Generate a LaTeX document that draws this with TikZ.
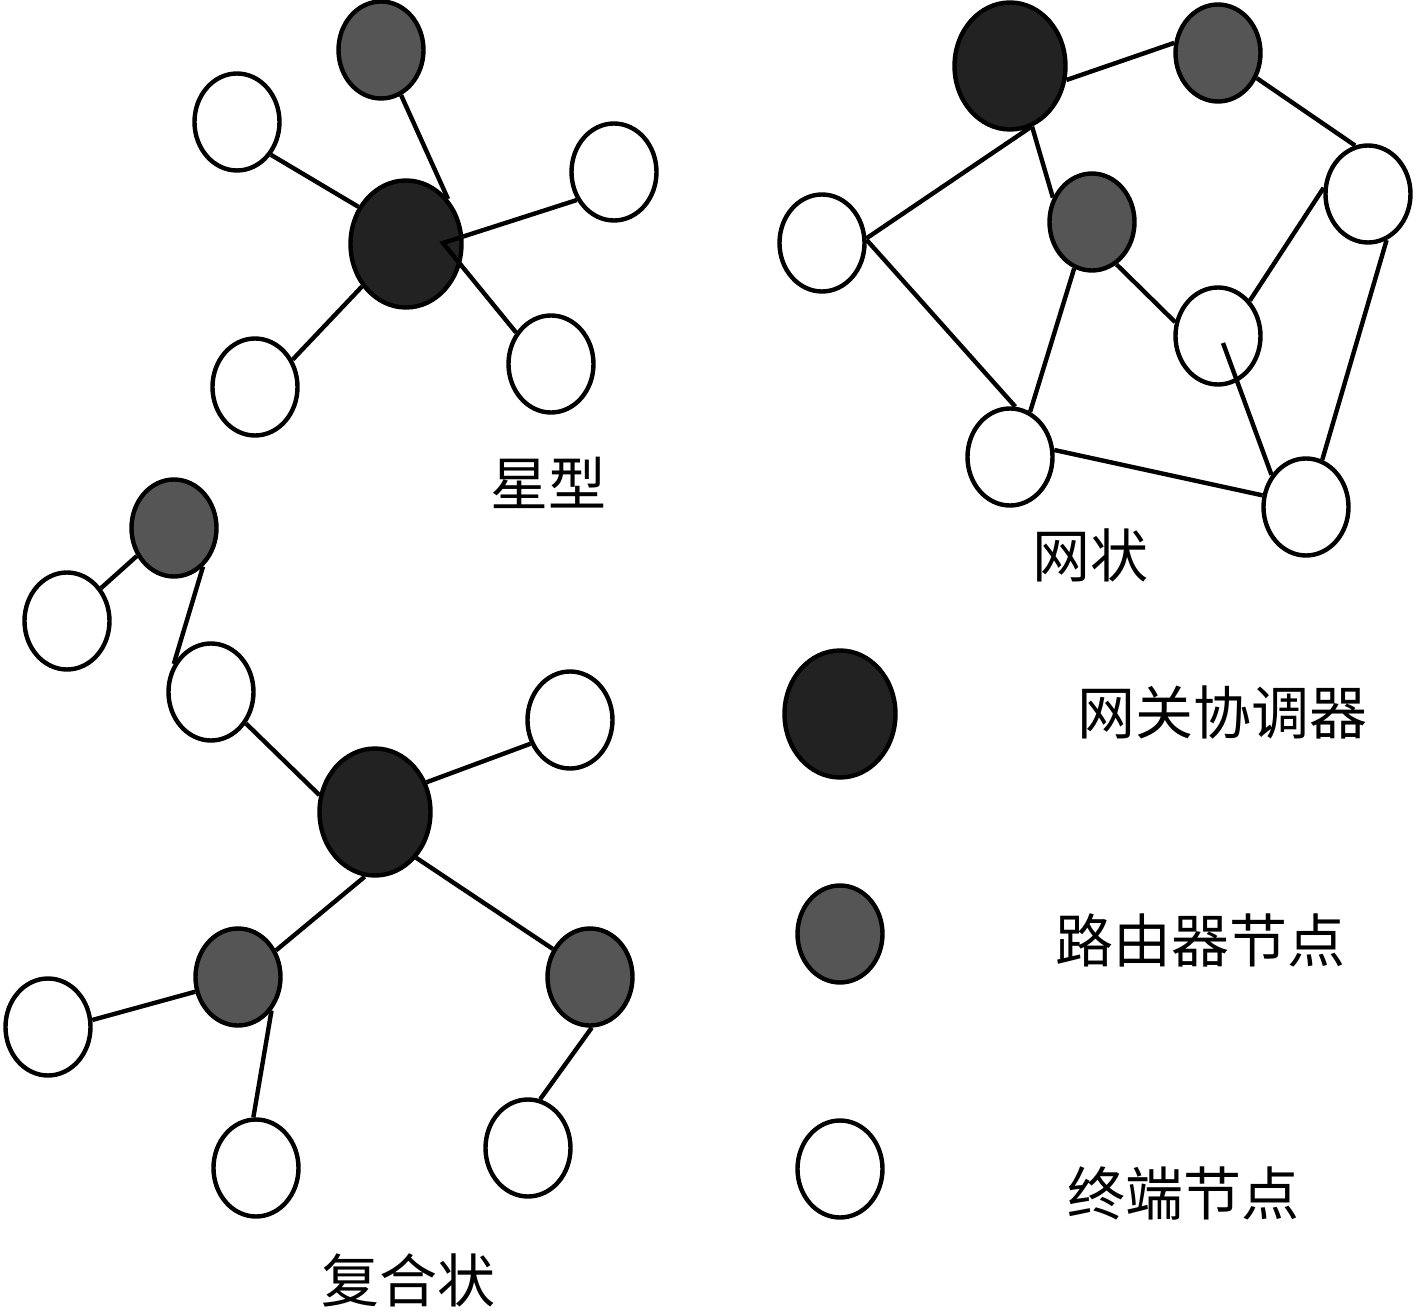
\documentclass[tikz,border=0pt]{standalone}
\usepackage{fontspec}
\newfontfamily\cjk{Noto Sans CJK SC}
\usetikzlibrary{shapes.geometric}
\definecolor{coordfill}{HTML}{222222}
\definecolor{routerfill}{HTML}{555555}
\tikzset{
  nd/.style={ellipse, draw=black, line width=4.4pt, inner sep=0pt, minimum width=85pt, minimum height=97pt},
  gw/.style={nd, fill=coordfill, minimum width=111pt, minimum height=127pt},
  rt/.style={nd, fill=routerfill},
  tm/.style={nd, fill=white},
  ln/.style={line width=4.4pt},
  lbl/.style={font=\cjk\fontsize{58}{60}\selectfont, inner sep=0pt}
}
\begin{document}
\begin{tikzpicture}[x=1pt,y=-1pt]
\useasboundingbox (0,0) rectangle (1417,1313);
\fill[white] (0,0) rectangle (1417,1313);

% ---------- star ----------
\node[gw] (sc) at (406,244) {};
\node[rt] (sg) at (381,50) {};
\node[tm] (sul) at (237,122) {};
\node[tm] (sr) at (614,172) {};
\node[tm] (sll) at (255,387) {};
\node[tm] (slr) at (551,364) {};
\coordinate (sk) at (443,243);
\node[lbl] (tstar) at (548,483) {星型};

\draw[ln] (sg.-66) -- (sc.47);
\draw[ln] (sul.-44) -- (sc.142);
\draw[ln] (sr.217) -- (sk) -- (slr.138);
\draw[ln] (sll.36) -- (sc.-136);

% ---------- mesh ----------
\node[gw] (mb) at (1010,66) {};
\node[rt] (mg1) at (1218,53) {};
\node[rt] (mg2) at (1092,222) {};
\node[tm] (mwr) at (1368,194) {};
\node[tm] (mwl) at (822,243) {};
\node[tm] (mwm) at (1218,336) {};
\node[tm] (mwb) at (1010,457) {};
\node[tm] (mwbr) at (1306,507) {};
\coordinate (mk) at (1223,343);
\node[lbl] (tmesh) at (1090,555) {网状};

\draw[ln] (mb.-14) -- (mg1.167);
\draw[ln] (mg1.-33) -- (mwr.105);
\draw[ln] (mb.-72) -- (mwl.6);
\draw[ln] (mb.-70) -- (mg2.148);
\draw[ln] (mg2.-60) -- (mwm.162);
\draw[ln] (mg2.-111) -- (mwb.66);
\draw[ln] (mwl.4) -- (mwb.84);
\draw[ln] (mwr.172) -- (mwm.48);
\draw[ln] (mwr.-68) -- (mwbr.71);
\draw[ln] (mk) -- (mwbr.137);
\draw[ln] (mwb.9) -- (mwbr.165);

% ---------- composite ----------
\node[gw] (cb) at (375,812) {};
\node[rt] (cg) at (174,528) {};
\node[tm] (cw1) at (67,621) {};
\node[tm] (cw2) at (211,692) {};
\node[tm] (cwr) at (570,720) {};
\node[rt] (cgl) at (238,977) {};
\node[rt] (cgr) at (590,977) {};
\node[tm] (cwfl) at (48,1027) {};
\node[tm] (cwb) at (256,1168) {};
\node[tm] (cwbr) at (528,1148) {};
\node[lbl] (tcomp) at (408,1280) {复合状};

\draw[ln] (cg.-143) -- (cw1.44);
\draw[ln] (cg.-53) -- (cw2.143);
\draw[ln] (cw2.-42) -- (cb.163);
\draw[ln] (cb.30) -- (cwr.-149);
\draw[ln] (cb.-99) -- (cgl.35);
\draw[ln] (cb.-48) -- (cgr.143);
\draw[ln] (cgl.-161) -- (cwfl.9);
\draw[ln] (cgl.-45) -- (cwb.93);
\draw[ln] (cgr.-88) -- (cwbr.76);

% ---------- legend ----------
\node[gw] (lb) at (840,714) {};
\node[rt] (lg) at (840,934) {};
\node[tm] (lw) at (840,1169) {};
\node[lbl] (tlb) at (1222,712) {网关协调器};
\node[lbl] (tlg) at (1200,940) {路由器节点};
\node[lbl] (tlw) at (1183,1193) {终端节点};
\end{tikzpicture}
\end{document}
